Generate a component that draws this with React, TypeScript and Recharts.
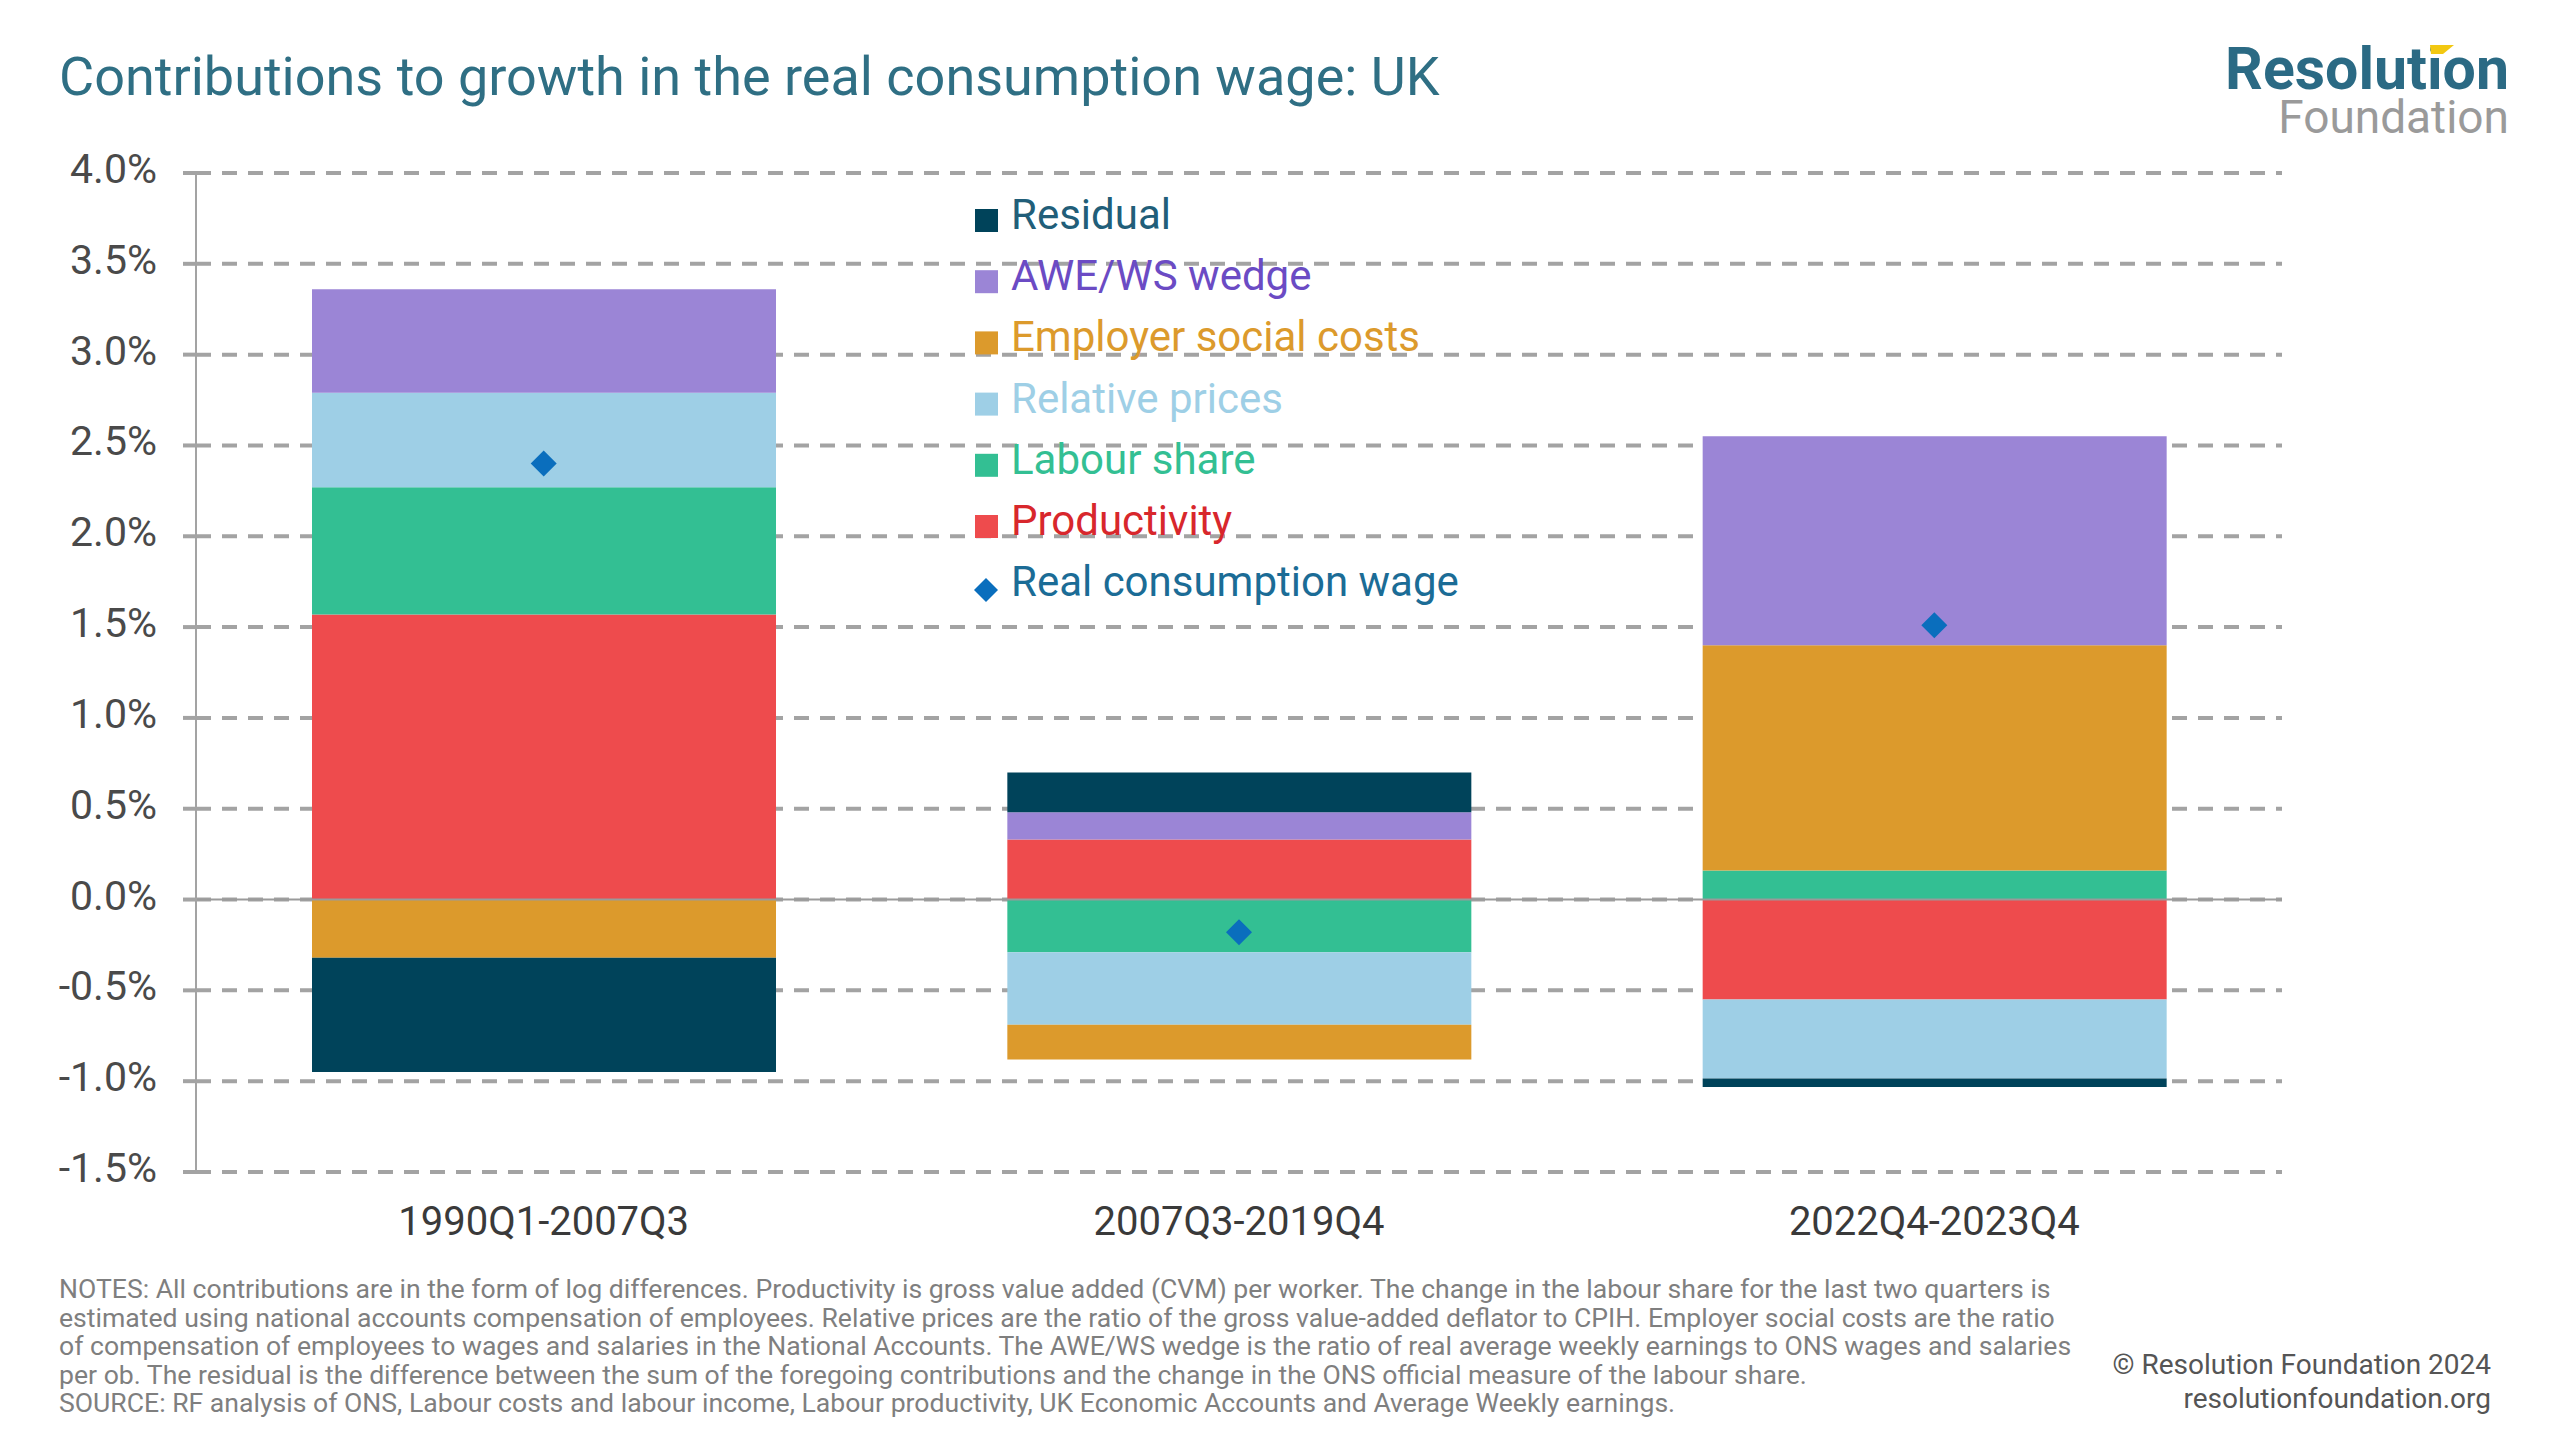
import React from 'react';
import { Bar, CartesianGrid, ComposedChart, ReferenceLine, Scatter, XAxis, YAxis } from 'recharts';

const periods = ['1990Q1-2007Q3', '2007Q3-2019Q4', '2022Q4-2023Q4'];
const productivity = [1.57, 0.33, -0.55];
const labourShare = [0.7, -0.29, 0.16];
const relativePrices = [0.52, -0.4, -0.435];
const employerSocialCosts = [-0.32, -0.19, 1.24];
const aweWsWedge = [0.57, 0.15, 1.15];
const residual = [-0.63, 0.22, -0.047];
const realConsumptionWage = [2.4, -0.18, 1.51];
const yTicks = [-1.5, -1, -0.5, 0, 0.5, 1, 1.5, 2, 2.5, 3, 3.5, 4];

const data = periods.map((period, i) => ({
  period,
  productivity: productivity[i],
  labourShare: labourShare[i],
  relativePrices: relativePrices[i],
  employerSocialCosts: employerSocialCosts[i],
  aweWsWedge: aweWsWedge[i],
  residual: residual[i],
  realConsumptionWage: realConsumptionWage[i],
}));

// stacking order, bottom to top
const SERIES = [
  { key: 'productivity', name: 'Productivity', color: '#EE4B4D', text: '#D8272C' },
  { key: 'labourShare', name: 'Labour share', color: '#33BF93', text: '#33BF93' },
  { key: 'relativePrices', name: 'Relative prices', color: '#9ECFE6', text: '#9ECFE6' },
  { key: 'employerSocialCosts', name: 'Employer social costs', color: '#DC9A2C', text: '#DC9A2C' },
  { key: 'aweWsWedge', name: 'AWE/WS wedge', color: '#9B85D6', text: '#6B4BC4' },
  { key: 'residual', name: 'Residual', color: '#00435A', text: '#215E79' },
];

const WAGE_COLOR = '#0A6EBD';
const FONT = 'Roboto, sans-serif';
const GRID = '#A3A3A3';

const notes = [
  'NOTES: All contributions are in the form of log differences. Productivity is gross value added (CVM) per worker. The change in the labour share for the last two quarters is',
  'estimated using national accounts compensation of employees. Relative prices are the ratio of the gross value-added deflator to CPIH. Employer social costs are the ratio',
  'of compensation of employees to wages and salaries in the National Accounts. The AWE/WS wedge is the ratio of real average weekly earnings to ONS wages and salaries',
  'per ob. The residual is the difference between the sum of the foregoing contributions and the change in the ONS official measure of the labour share.',
  'SOURCE: RF analysis of ONS, Labour costs and labour income, Labour productivity, UK Economic Accounts and Average Weekly earnings.',
];

const YTick = ({ x, y, payload }: any) => (
  <text x={x} y={y} dy={10} textAnchor="end" fontSize={41} fill="#4a4a4a" fontFamily={FONT}>
    {Number(payload.value).toFixed(1)}%
  </text>
);

const XTick = ({ x, y, payload }: any) => (
  <text x={x} y={y} dy={63} textAnchor="middle" fontSize={40} fill="#3a3a3a" fontFamily={FONT}>
    {payload.value}
  </text>
);

const Diamond = ({ cx, cy }: any) => (
  <path d={`M${cx},${cy - 13}L${cx + 13},${cy}L${cx},${cy + 13}L${cx - 13},${cy}Z`} fill={WAGE_COLOR} />
);

export default function App() {
  const legend = [...SERIES].reverse();
  return (
    <div style={{ position: 'absolute', left: 0, top: 0, width: 2560, height: 1440, background: '#fff', fontFamily: FONT }}>
      <ComposedChart
        width={2560}
        height={1440}
        data={data}
        stackOffset="sign"
        margin={{ top: 173, right: 278, bottom: 188, left: 66 }}
      >
        <CartesianGrid vertical={false} stroke={GRID} strokeWidth={4} strokeDasharray="15 11" />
        <XAxis dataKey="period" axisLine={false} tickLine={false} tickSize={0} tickMargin={0} height={80} tick={<XTick />} />
        <YAxis
          width={130}
          domain={[-1.5, 4]}
          ticks={yTicks}
          interval={0}
          axisLine={{ stroke: GRID, strokeWidth: 2 }}
          tickLine={{ stroke: GRID, strokeWidth: 4 }}
          tickSize={13}
          tickMargin={26}
          tick={<YTick />}
        />
        {SERIES.map((s) => (
          <Bar key={s.key} dataKey={s.key} name={s.name} stackId="a" fill={s.color} barSize={464} isAnimationActive={false} />
        ))}
        <ReferenceLine y={0} stroke="#9a9a9a" strokeWidth={2} />
        <Scatter dataKey="realConsumptionWage" name="Real consumption wage" fill={WAGE_COLOR} shape={<Diamond />} isAnimationActive={false} />
      </ComposedChart>

      <svg width={2560} height={1440} style={{ position: 'absolute', left: 0, top: 0, pointerEvents: 'none' }}>
        <text x={59} y={95} fontSize={54} fill="#2F6F84" fontFamily={FONT}>
          Contributions to growth in the real consumption wage: UK
        </text>

        {/* logo: one text block, two lines */}
        <text textAnchor="end" fontFamily={FONT}>
          <tspan x={2509} y={89} fontSize={59} fontWeight={700} fill="#2B6A84">
            Resolution
          </tspan>
          <tspan x={2509} y={133} fontSize={46} fill="#9a9a9a">
            Foundation
          </tspan>
        </text>
        <polygon points="2430,45 2454,45 2443,54 2431,54" fill="#F2C811" />

        {legend.map((s, i) => {
          const base = 229 + i * 61.2;
          return (
            <g key={s.key}>
              <rect x={975} y={base - 20} width={23} height={23} fill={s.color} />
              <text x={1011} y={base} fontSize={42} fill={s.text} fontFamily={FONT}>
                {s.name}
              </text>
            </g>
          );
        })}
        <path d="M986,578L998,590L986,602L974,590Z" fill={WAGE_COLOR} />
        <text x={1011} y={229 + 6 * 61.2} fontSize={42} fill="#1B6C96" fontFamily={FONT}>
          Real consumption wage
        </text>

        {notes.map((line, i) => (
          <text key={i} x={59} y={1298 + i * 28.5} fontSize={26.6} fill="#7f7f7f" fontFamily={FONT}>
            {line}
          </text>
        ))}
        <text x={2491} y={1374} fontSize={28} fill="#555" textAnchor="end" fontFamily={FONT}>
          © Resolution Foundation 2024
        </text>
        <text x={2491} y={1408} fontSize={28} fill="#555" textAnchor="end" fontFamily={FONT}>
          resolutionfoundation.org
        </text>
      </svg>
    </div>
  );
}
